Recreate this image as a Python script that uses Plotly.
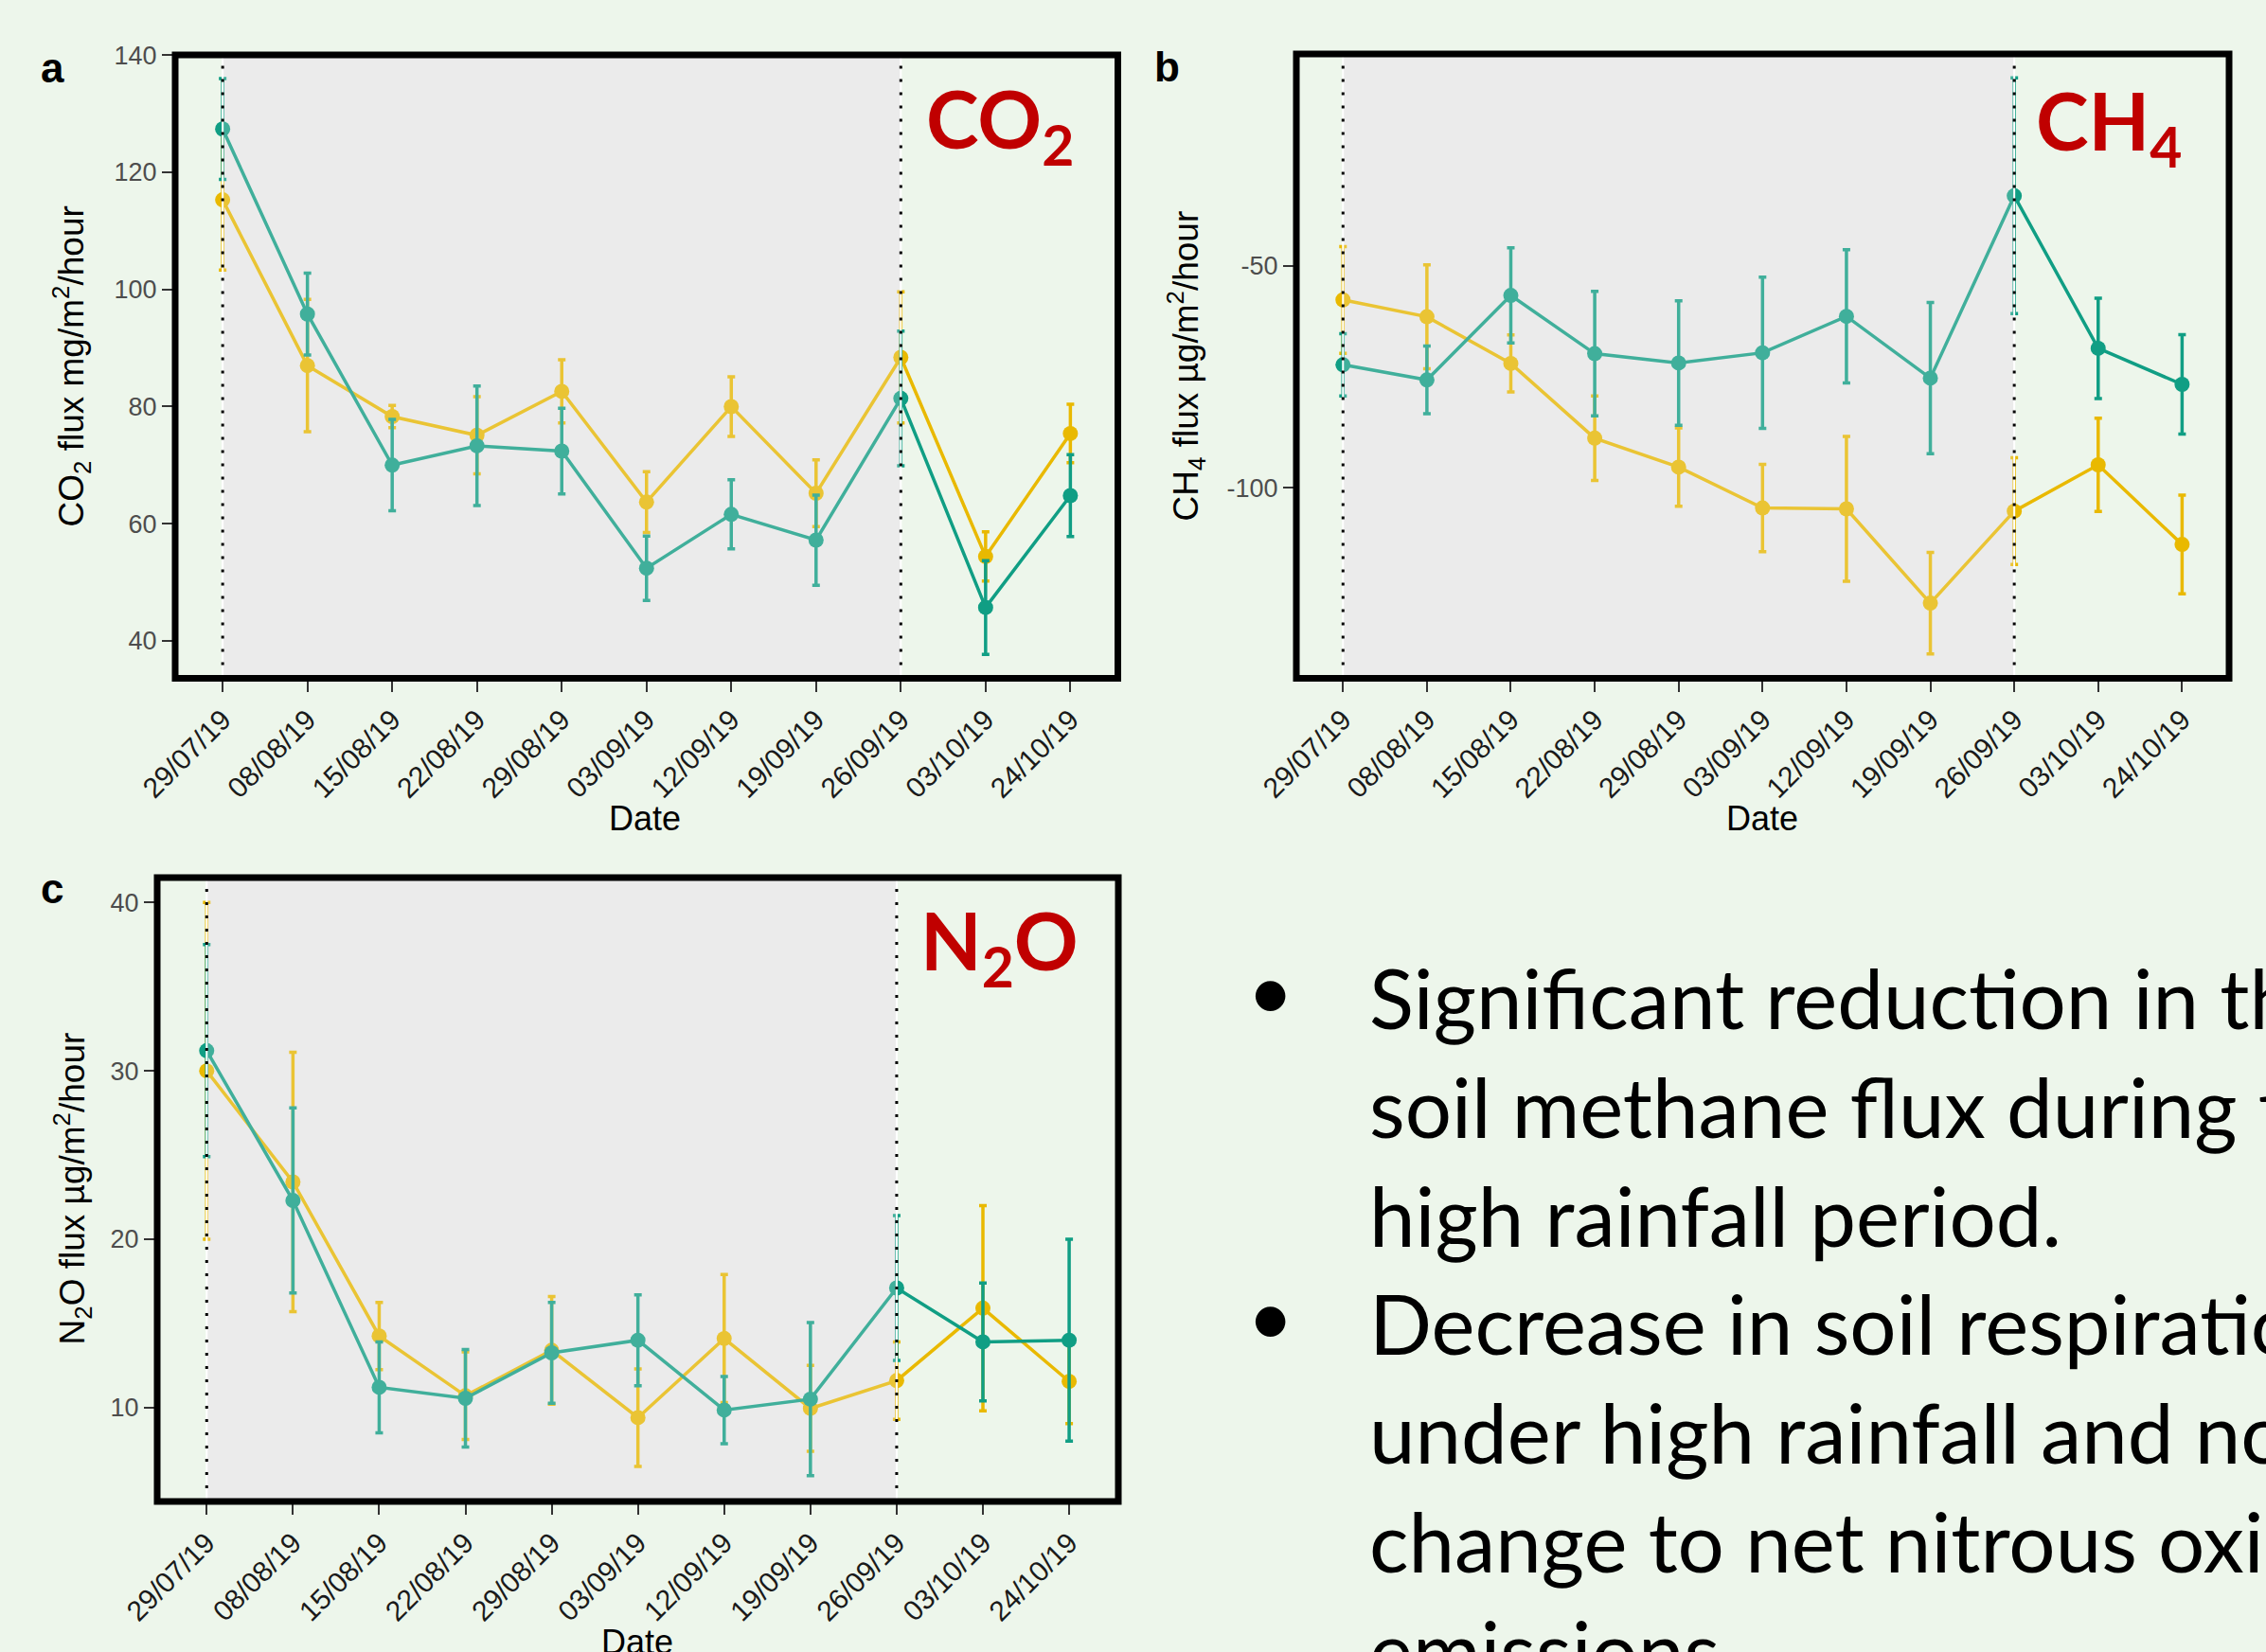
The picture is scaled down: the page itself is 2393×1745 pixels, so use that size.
import plotly.graph_objects as go

W, H = 2393, 1745

# ---------------- data ----------------
dates = ["29/07/19", "08/08/19", "15/08/19", "22/08/19", "29/08/19", "03/09/19",
         "12/09/19", "19/09/19", "26/09/19", "03/10/19", "24/10/19"]

co2_teal = [127.4, 95.8, 70.0, 73.3, 72.4, 52.4, 61.6, 57.2, 81.4, 45.7, 64.8]
co2_teal_err = [8.6, 7.0, 7.8, 10.2, 7.3, 5.5, 5.9, 7.7, 11.5, 8.0, 7.0]
co2_yellow = [115.3, 87.0, 78.3, 75.1, 82.6, 63.7, 80.0, 65.2, 88.4, 54.4, 75.4]
co2_yellow_err = [12.0, 11.3, 1.9, 6.6, 5.4, 5.2, 5.1, 5.7, 11.2, 4.2, 5.0]

ch4_teal = [-72.3, -75.7, -56.7, -69.8, -71.9, -69.6, -61.4, -75.3, -34.3, -68.6, -76.7]
ch4_teal_err = [7.0, 7.6, 10.7, 14.0, 14.0, 17.0, 15.0, 17.0, 26.5, 11.3, 11.2]
ch4_yellow = [-57.7, -61.5, -72.0, -88.8, -95.3, -104.5, -104.7, -125.9, -105.2, -94.8, -112.7]
ch4_yellow_err = [12.0, 11.7, 6.4, 9.5, 8.8, 9.8, 16.3, 11.4, 12.0, 10.5, 11.1]

n2o_teal = [31.2, 22.3, 11.2, 10.55, 13.25, 14.0, 9.85, 10.5, 17.1, 13.9, 14.0]
n2o_teal_err = [6.3, 5.5, 2.7, 2.9, 3.0, 2.7, 2.0, 4.55, 4.3, 3.5, 6.0]
n2o_yellow = [30.0, 23.4, 14.25, 10.7, 13.4, 9.4, 14.1, 9.95, 11.6, 15.9, 11.55]
n2o_yellow_err = [10.0, 7.7, 2.0, 2.6, 3.2, 2.9, 3.8, 2.55, 2.3, 6.1, 2.5]

co2_ticks = [40, 60, 80, 100, 120, 140]
co2_ticktext = ["40", "60", "80", "100", "120", "140"]
ch4_ticks = [-100, -50]
ch4_ticktext = ["-100", "-50"]
n2o_ticks = [10, 20, 30, 40]
n2o_ticktext = ["10", "20", "30", "40"]

shade_start, shade_end = 0, 8  # category indices bounding the shaded period

bullet_lines = [
    "Significant reduction in the",
    "soil methane flux during the",
    "high rainfall period.",
    "Decrease in soil respiration",
    "under high rainfall and no",
    "change to net nitrous oxide",
    "emissions.",
]

# ---------------- styling ----------------
TEAL = "#109E84"
YELLOW = "#E9B900"
BG = "#EDF6EB"
GREY = "#EBEBEB"
RED = "#C00000"
AX_FONT = "Liberation Sans"
TXT_FONT = "Lato"


def fx(p):
    return p / W


def fy(p):
    return 1 - p / H


# panel geometry in pixels (left, right, top, bottom)
panels = {
    "a": dict(l=185, r=1180.5, t=58, b=716.5, xr=[-0.56, 10.56], yr=[33.6, 140.05],
              ticks=co2_ticks, ticktext=co2_ticktext),
    "b": dict(l=1369, r=2354, t=57, b=716.5, xr=[-0.556, 10.56], yr=[-142.8, -2.4],
              ticks=ch4_ticks, ticktext=ch4_ticktext),
    "c": dict(l=166, r=1181, t=927, b=1586, xr=[-0.574, 10.57], yr=[4.42, 41.48],
              ticks=n2o_ticks, ticktext=n2o_ticktext),
}

fig = go.Figure()

series = [
    ("a", "x", "y", co2_yellow, co2_yellow_err, co2_teal, co2_teal_err),
    ("b", "x2", "y2", ch4_yellow, ch4_yellow_err, ch4_teal, ch4_teal_err),
    ("c", "x3", "y3", n2o_yellow, n2o_yellow_err, n2o_teal, n2o_teal_err),
]

for key, xa, ya, yv, ye, tv, te in series:
    for vals, errs, col in ((yv, ye, YELLOW), (tv, te, TEAL)):
        fig.add_trace(go.Scatter(
            x=dates, y=vals, mode="lines+markers",
            line=dict(color=col, width=3.5),
            marker=dict(size=16, color=col, line=dict(width=0)),
            error_y=dict(type="data", array=errs, visible=True, color=col, thickness=3.5, width=4),
            xaxis=xa, yaxis=ya, showlegend=False, hoverinfo="skip",
        ))

layout_axes = {}
shapes = []
axis_names = [("a", "xaxis", "yaxis", "x", "y"),
              ("b", "xaxis2", "yaxis2", "x2", "y2"),
              ("c", "xaxis3", "yaxis3", "x3", "y3")]

for key, xname, yname, xr_, yr_ in axis_names:
    p = panels[key]
    layout_axes[xname] = dict(
        domain=[fx(p["l"]), fx(p["r"])], anchor=yr_, automargin=False,
        type="category", categoryorder="array", categoryarray=dates,
        range=p["xr"], tickangle=-45, ticks="outside", ticklen=13, tickwidth=2,
        tickcolor="#333333", tickfont=dict(family=AX_FONT, size=30, color="#1A1A1A"),
        showgrid=False, zeroline=False, showline=False, fixedrange=True,
    )
    layout_axes[yname] = dict(
        domain=[fy(p["b"]), fy(p["t"])], anchor=xr_, automargin=False,
        range=p["yr"], tickmode="array", tickvals=p["ticks"], ticktext=p["ticktext"],
        ticks="outside", ticklen=13, tickwidth=2,
        tickcolor="#333333", tickfont=dict(family=AX_FONT, size=27, color="#4D4D4D"),
        showgrid=False, zeroline=False, showline=False, fixedrange=True,
    )
    ydom = yr_ + " domain"
    shapes.append(dict(type="rect", xref=xr_, yref=ydom, x0=shade_start, x1=shade_end, y0=0, y1=1,
                       fillcolor=GREY, line=dict(width=0), layer="below"))
    shapes.append(dict(type="rect", xref=xr_, yref=ydom, x0=shade_start, x1=shade_end, y0=0, y1=1,
                       fillcolor="rgba(236,236,236,0.22)", line=dict(width=0), layer="above"))
    for xv in (shade_start, shade_end):
        shapes.append(dict(type="line", xref=xr_, yref=ydom, x0=xv, x1=xv, y0=0, y1=1,
                           line=dict(color="white", width=2), layer="above"))
        shapes.append(dict(type="line", xref=xr_, yref=ydom, x0=xv, x1=xv, y0=0, y1=1,
                           line=dict(color="black", width=3, dash="3px,11px"), layer="above"))
    shapes.append(dict(type="rect", xref=xr_ + " domain", yref=ydom, x0=0, x1=1, y0=0, y1=1,
                       line=dict(color="black", width=7), fillcolor="rgba(0,0,0,0)", layer="above"))

ann = []


def add_text(text, x, y, size, family=AX_FONT, color="black", xanchor="center", yanchor="middle",
             angle=0, weight="normal"):
    ann.append(dict(text=text, x=fx(x), y=fy(y), xref="paper", yref="paper", showarrow=False,
                    xanchor=xanchor, yanchor=yanchor, textangle=angle,
                    font=dict(family=family, size=size, color=color, weight=weight)))


# panel letters
add_text("a", 55, 71.5, 44, weight="bold")
add_text("b", 1232, 70.6, 44, weight="bold")
add_text("c", 55, 939, 44, weight="bold")

# axis titles
add_text("CO<sub>2</sub> flux mg/m<sup>2</sup>/hour", 75.5, 387, 37, angle=-90)
add_text("CH<sub>4</sub> flux \u00b5g/m<sup>2</sup>/hour", 1252.5, 387, 37, angle=-90)
add_text("N<sub>2</sub>O flux \u00b5g/m<sup>2</sup>/hour", 75.5, 1256, 37, angle=-90)
add_text("Date", 681, 864, 36)
add_text("Date", 1861, 864, 36)
add_text("Date", 673, 1734.5, 36)

# gas labels
add_text("CO<sub>2</sub>", 1136, 72, 84, family=TXT_FONT, color=RED, xanchor="right", yanchor="top", weight="bold")
add_text("CH<sub>4</sub>", 2306, 74.5, 84, family=TXT_FONT, color=RED, xanchor="right", yanchor="top", weight="bold")
add_text("N<sub>2</sub>O", 1141, 939.5, 84, family=TXT_FONT, color=RED, xanchor="right", yanchor="top", weight="bold")

# bullet text
baselines = [1086, 1201, 1316, 1430, 1545, 1660, 1775]
for line, bl in zip(bullet_lines, baselines):
    add_text(line, 1444, bl - 33, 87, family=TXT_FONT, xanchor="left")
for bl in (baselines[0], baselines[3]):
    add_text("\u2022", 1341, bl - 41, 85, family=TXT_FONT)

fig.update_layout(
    width=W, height=H, margin=dict(l=0, r=0, t=0, b=0, pad=0, autoexpand=False),
    paper_bgcolor=BG, plot_bgcolor=BG,
    shapes=shapes, annotations=ann, showlegend=False,
    **layout_axes,
)

fig.write_html("out.html", config={"displayModeBar": False},
               post_script="document.body.style.margin='0px';document.body.style.overflow='hidden';")
